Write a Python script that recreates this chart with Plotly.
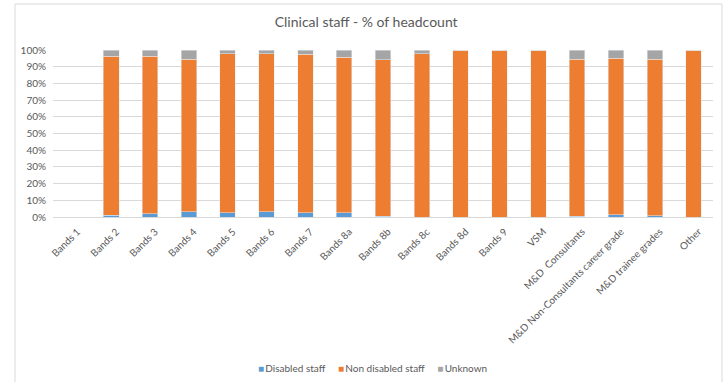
import plotly.graph_objects as go

categories = ["Bands 1", "Bands 2", "Bands 3", "Bands 4", "Bands 5", "Bands 6", "Bands 7",
              "Bands 8a", "Bands 8b", "Bands 8c", "Bands 8d", "Bands 9", "VSM",
              "M&D  Consultants", "M&D Non-Consultants career grade", "M&D trainee grades", "Other"]
disabled = [0, 1.2, 2.0, 3.2, 2.4, 3.2, 2.6, 2.4, 0.5, 0.0, 0.0, 0.0, 0.0, 0.5, 1.5, 0.8, 0.0]
non_disabled = [0, 95.0, 94.2, 91.4, 95.4, 94.6, 94.8, 93.4, 93.7, 97.8, 100.0, 100.0, 100.0, 94.1, 93.7, 93.8, 100.0]
unknown = [0, 3.8, 3.8, 5.4, 2.2, 2.2, 2.6, 4.2, 5.8, 2.2, 0.0, 0.0, 0.0, 5.4, 4.8, 5.4, 0.0]
y_ticks = [0, 10, 20, 30, 40, 50, 60, 70, 80, 90, 100]
y_tick_labels = [f"{v}%" for v in y_ticks]
series_names = ["Disabled staff", "Non disabled staff", "Unknown"]
series_colors = ["#5B9BD5", "#ED7D31", "#A5A5A5"]

font_family = "Lato, 'Open Sans', sans-serif"

fig = go.Figure()
for name, vals, col in zip(series_names, [disabled, non_disabled, unknown], series_colors):
    fig.add_bar(x=categories, y=vals, name=name, marker_color=col)

L, R, T, B = 53, 15, 50, 165
W, H = 728, 382
pw, ph = W - L - R, H - T - B

fig.update_layout(
    barmode="stack",
    bargap=0.6,
    width=W, height=H,
    margin=dict(l=L, r=R, t=T, b=B),
    paper_bgcolor="white",
    plot_bgcolor="white",
    font=dict(family=font_family, color="#595959", size=10),
    title=dict(text="Clinical staff - % of headcount", x=0.503, xanchor="center",
               y=1 - 22 / H, yanchor="middle", yref="container",
               font=dict(size=14, color="#595959", family=font_family)),
    showlegend=False,
)
fig.update_xaxes(tickangle=-45, showgrid=False, showline=True, linecolor="#D9D9D9",
                 ticks="", tickfont=dict(size=10, color="#595959"), range=[-0.5, 16.5],
                 ticklabelshift=5, ticklabelstandoff=4)
fig.update_yaxes(range=[0, 100], tickvals=y_ticks, ticktext=y_tick_labels, showgrid=True,
                 gridcolor="#D9D9D9", zeroline=False, showline=False, ticks="",
                 tickfont=dict(size=10, color="#595959"), ticklabelstandoff=6)

# legend drawn as a single text line (Excel-style compact legend)
gap = "\u00a0" * 5
legend_text = gap.join(
    f"<span style='color:{c};font-size:10px'>■</span>\u2009{n}" for n, c in zip(series_names, series_colors)
)
fig.add_annotation(text=legend_text, xref="paper", yref="paper",
                   x=(372 - L) / pw, y=(H - B - 368) / ph, xanchor="center", yanchor="middle",
                   showarrow=False, font=dict(size=10, color="#595959", family=font_family))

# chart frame
fig.add_shape(type="rect", xref="paper", yref="paper",
              x0=(15 - L) / pw, x1=(722 - L) / pw,
              y0=(H - B - 400) / ph, y1=(H - B - 4) / ph,
              line=dict(color="#D9D9D9", width=1), fillcolor="rgba(0,0,0,0)", layer="below")

fig.write_html("out.html")
